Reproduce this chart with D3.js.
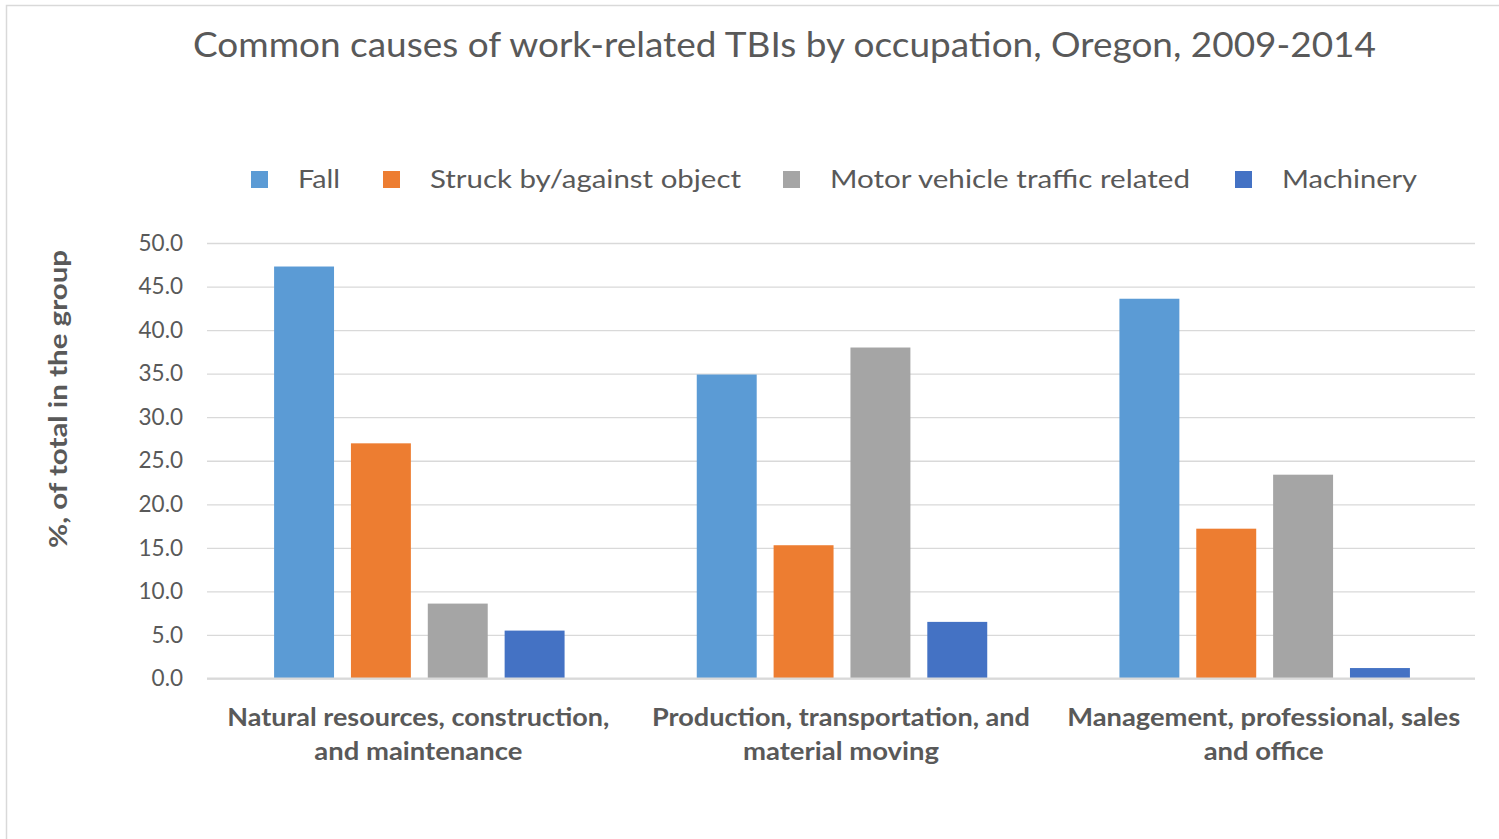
<!DOCTYPE html>
<html>
<head>
<meta charset="utf-8">
<script src="https://cdn.jsdelivr.net/npm/d3@7"></script>
<style>
  body { margin: 0; background: #fff; }
  text { font-family: Lato, "Open Sans", sans-serif; fill: #595959; }
</style>
</head>
<body>
<div id="chart"></div>
<script>
// occupation groups (two label lines each)
const categories = [
    ["Natural resources, construction,", "and maintenance"],
    ["Production, transportation, and", "material moving"],
    ["Management, professional, sales", "and office"]
];
const seriesNames = ["Fall", "Struck by/against object", "Motor vehicle traffic related", "Machinery"];
const fallValues = [47.3, 34.9, 43.6];
const struckValues = [27.0, 15.3, 17.2];
const motorValues = [8.6, 38.0, 23.4];
const machineryValues = [5.5, 6.5, 1.2];
const yTicks = [0, 5, 10, 15, 20, 25, 30, 35, 40, 45, 50];

const colors = ["#5B9BD5", "#ED7D31", "#A5A5A5", "#4472C4"];
const seriesValues = [fallValues, struckValues, motorValues, machineryValues];

const W = 1499, H = 839;
const margin = { top: 243, right: 24, bottom: 160.5, left: 207 };
const width = W - margin.left - margin.right,
    height = H - margin.top - margin.bottom;

const root = d3.select("#chart").append("svg")
    .attr("width", W)
    .attr("height", H);

// chart frame
root.append("rect")
    .attr("x", 6.5).attr("y", 5.5)
    .attr("width", W).attr("height", H)
    .attr("fill", "none")
    .attr("stroke", "#D9D9D9")
    .attr("stroke-width", 1.5);

// squeeze a text to a given width
function fit(sel, w) {
    sel.each(function () {
        if (this.getComputedTextLength() > 0)
            d3.select(this).attr("textLength", w).attr("lengthAdjust", "spacingAndGlyphs");
    });
}

root.append("text")
    .attr("x", 784.5).attr("y", 57)
    .attr("text-anchor", "middle")
    .style("font-size", "35px")
    .text("Common causes of work-related TBIs by occupation, Oregon, 2009-2014")
    .call(fit, 1183);

const svg = root.append("g")
    .attr("transform", "translate(" + margin.left + "," + margin.top + ")");

const y = d3.scaleLinear().domain([0, 50]).range([height, 0]);

const x0 = d3.scaleBand()
    .domain(d3.range(categories.length))
    .range([0, width]);

const x1 = d3.scaleBand()
    .domain(d3.range(seriesNames.length))
    .range([1, x0.bandwidth() + 1])
    .paddingInner(0.22)
    .paddingOuter(0.86);

// gridlines + tick labels
const yAxis = svg.append("g")
    .call(d3.axisLeft(y).tickValues(yTicks).tickSize(-width).tickFormat(d3.format(".1f")));
yAxis.select(".domain").remove();
yAxis.selectAll(".tick line").attr("stroke", "#D9D9D9").attr("stroke-width", 1.3);
yAxis.selectAll(".tick text")
    .attr("x", -24)
    .style("font-size", "22.5px")
    .style("font-family", "Lato, sans-serif")
    .attr("fill", "#595959");

// bars
const groups = svg.selectAll(".grp")
    .data(categories)
    .enter().append("g")
    .attr("class", "grp")
    .attr("transform", (d, i) => "translate(" + x0(i) + ",0)");

groups.selectAll("rect")
    .data((d, i) => seriesValues.map((vals, s) => ({ s: s, v: vals[i] })))
    .enter().append("rect")
    .attr("x", d => x1(d.s))
    .attr("width", x1.bandwidth())
    .attr("y", d => y(d.v))
    .attr("height", d => height - y(d.v))
    .attr("fill", d => colors[d.s]);

// baseline
svg.append("line")
    .attr("x1", 0).attr("x2", width)
    .attr("y1", y(0)).attr("y2", y(0))
    .attr("stroke", "#D9D9D9").attr("stroke-width", 2);

// category labels
const lineWidths = [[382, 208], [378, 196], [393, 120]];
groups.each(function (d, i) {
    const g = d3.select(this);
    d.forEach((line, k) => {
        g.append("text")
            .attr("x", x0.bandwidth() / 2)
            .attr("y", height + 47 + k * 34)
            .attr("text-anchor", "middle")
            .style("font-size", "24px")
            .style("font-weight", "bold")
            .text(line)
            .call(fit, lineWidths[i][k]);
    });
});

// y axis title
root.append("text")
    .attr("transform", "translate(67,399) rotate(-90)")
    .attr("text-anchor", "middle")
    .style("font-size", "24px")
    .style("font-weight", "bold")
    .text("%, of total in the group")
    .call(fit, 298);

// legend
const legendX = [251, 383, 783, 1235];
const legendW = [42, 311, 360, 135];
const legend = root.selectAll(".leg")
    .data(seriesNames)
    .enter().append("g")
    .attr("class", "leg")
    .attr("transform", (d, i) => "translate(" + legendX[i] + ",171)");
legend.append("rect")
    .attr("width", 17).attr("height", 17)
    .attr("fill", (d, i) => colors[i]);
legend.append("text")
    .attr("x", 47).attr("y", 17)
    .style("font-size", "25px")
    .text(d => d)
    .each(function (d, i) { d3.select(this).call(fit, legendW[i]); });
</script>
</body>
</html>
